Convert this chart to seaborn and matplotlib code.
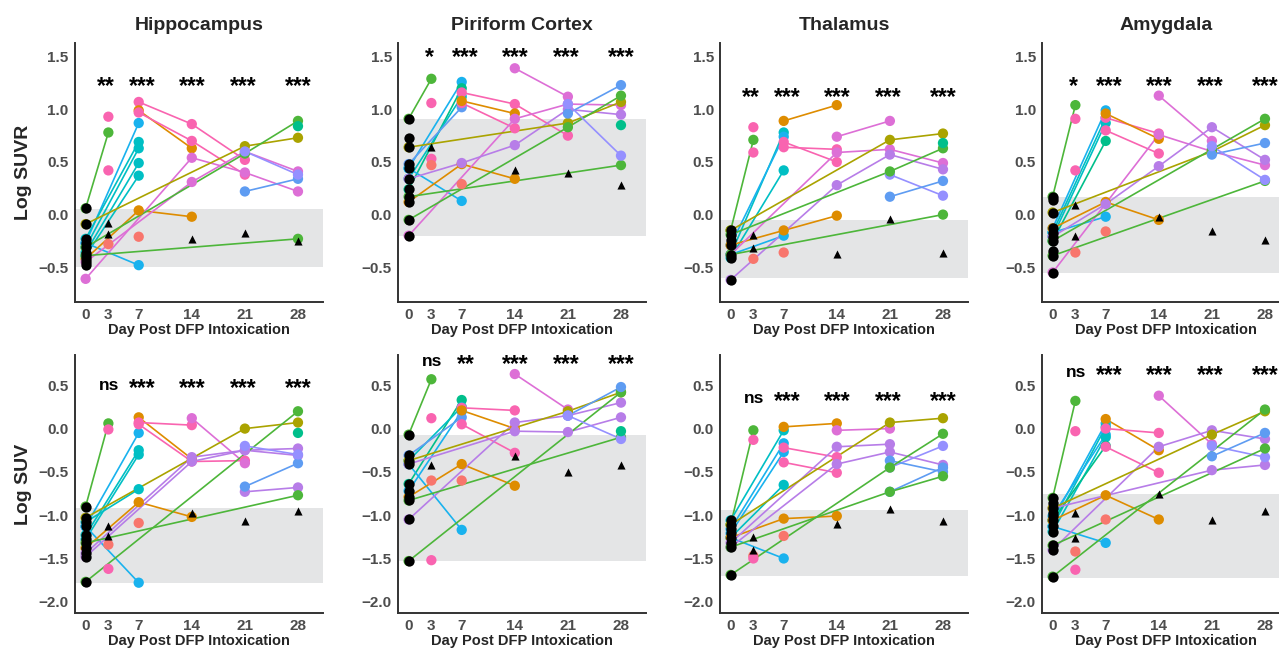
import pandas as pd
import matplotlib.pyplot as plt
import seaborn as sns

sns.set_style("white")
plt.rcParams['font.family'] = ['Liberation Sans', 'DejaVu Sans']

# ggplot-like hue colours, one per animal group
colors = {
    'salmon': '#F8766D', 'orange': '#DE8C00', 'olive': '#AAA300', 'green': '#4DB63A',
    'teal': '#00BF8B', 'cyan': '#00BFC4', 'sky': '#19B2EE', 'blue': '#5E9CF2',
    'lavender': '#9590FF', 'purple': '#B77DE8', 'magenta': '#DD6FD6', 'pink': '#F964B0',
}

tick_days = [0, 3, 7, 14, 21, 28]
star_days = [2.7, 7.5, 14, 20.8, 28]

# ---------------- Log SUVR ----------------
hip_suvr_base = [0.06, -0.09, -0.23, -0.27, -0.31, -0.36, -0.39, -0.42, -0.45, -0.48]
hip_suvr_tracks = [
    ('green', [0, 3], [0.06, 0.78]), ('pink', [3], [0.93]), ('pink', [3], [0.42]), ('salmon', [3], [-0.28]),
    ('sky', [0, 7], [-0.27, 0.87]), ('cyan', [0, 7], [-0.23, 0.69]), ('cyan', [0, 7], [-0.31, 0.63]),
    ('cyan', [0, 7], [-0.36, 0.49]), ('cyan', [0, 7], [-0.39, 0.37]), ('sky', [0, 7], [-0.27, -0.48]),
    ('orange', [0, 7, 14], [-0.42, 0.04, -0.02]), ('salmon', [7], [-0.21]),
    ('pink', [7, 14, 21], [1.07, 0.86, 0.52]), ('orange', [7, 14], [0.99, 0.63]),
    ('pink', [7, 14, 21], [0.97, 0.70, 0.38]),
    ('magenta', [0, 14, 21, 28], [-0.61, 0.54, 0.40, 0.22]),
    ('magenta', [0, 14, 21, 28], [-0.45, 0.31, 0.60, 0.41]),
    ('olive', [0, 21, 28], [-0.09, 0.65, 0.73]), ('green', [0, 21, 28], [-0.31, 0.58, 0.89]),
    ('green', [0, 28], [-0.39, -0.23]), ('blue', [21, 28], [0.22, 0.34]),
    ('lavender', [21, 28], [0.60, 0.38]), ('teal', [28], [0.84]),
]
hip_suvr_tri_days = [3, 3, 14, 21, 28]
hip_suvr_tri_vals = [-0.08, -0.18, -0.23, -0.17, -0.25]
hip_suvr_band = (-0.50, 0.05)
hip_suvr_stars = ['**', '***', '***', '***', '***']

pir_suvr_base = [0.91, 0.73, 0.64, 0.48, 0.44, 0.34, 0.24, 0.17, 0.12, -0.05, -0.20]
pir_suvr_tracks = [
    ('green', [0, 3], [0.91, 1.29]), ('pink', [3], [1.06]), ('pink', [3], [0.53]), ('salmon', [3], [0.47]),
    ('sky', [0, 7], [0.44, 1.26]), ('teal', [0, 7], [0.24, 1.20]), ('cyan', [0, 7], [0.34, 1.12]),
    ('blue', [0, 7], [0.48, 1.02]), ('sky', [0, 7], [0.44, 0.13]),
    ('pink', [7, 14, 21], [1.16, 1.05, 0.75]), ('pink', [7, 14], [1.06, 0.82]),
    ('orange', [7, 14], [1.08, 0.96]), ('orange', [0, 7, 14], [0.12, 0.48, 0.34]), ('salmon', [7], [0.29]),
    ('magenta', [14, 21], [1.39, 1.12]),
    ('magenta', [0, 14, 21, 28], [-0.20, 0.91, 1.05, 1.04]),
    ('purple', [0, 7, 14, 21, 28], [0.34, 0.49, 0.66, 1.00, 0.95]),
    ('olive', [0, 21, 28], [0.64, 0.87, 1.07]), ('green', [0, 21, 28], [-0.05, 0.83, 1.13]),
    ('green', [0, 28], [0.17, 0.47]), ('blue', [21, 28], [0.96, 1.23]),
    ('lavender', [21, 28], [1.05, 0.56]), ('teal', [28], [0.85]),
]
pir_suvr_tri_days = [3, 14, 21, 28]
pir_suvr_tri_vals = [0.64, 0.42, 0.40, 0.28]
pir_suvr_band = (-0.20, 0.91)
pir_suvr_stars = ['*', '***', '***', '***', '***']

thal_suvr_base = [-0.15, -0.19, -0.24, -0.29, -0.38, -0.41, -0.62]
thal_suvr_tracks = [
    ('green', [0, 3], [-0.15, 0.71]), ('pink', [3], [0.83]), ('pink', [3], [0.59]), ('salmon', [3], [-0.42]),
    ('cyan', [0, 7], [-0.38, 0.78]), ('sky', [0, 7], [-0.29, 0.74]), ('cyan', [0, 7], [-0.41, 0.42]),
    ('sky', [0, 7], [-0.38, -0.20]),
    ('orange', [0, 7, 14], [-0.29, -0.15, -0.01]), ('orange', [7, 14], [0.89, 1.04]), ('salmon', [7], [-0.36]),
    ('pink', [7, 14], [0.69, 0.50]), ('pink', [7, 14], [0.64, 0.62]),
    ('magenta', [14, 21], [0.74, 0.89]),
    ('magenta', [0, 14, 21, 28], [-0.38, 0.59, 0.62, 0.49]),
    ('purple', [0, 14, 21, 28], [-0.62, 0.28, 0.57, 0.43]),
    ('lavender', [21, 28], [0.38, 0.18]), ('blue', [21, 28], [0.17, 0.32]),
    ('olive', [0, 21, 28], [-0.15, 0.71, 0.77]), ('green', [0, 21, 28], [-0.19, 0.41, 0.63]),
    ('green', [0, 28], [-0.38, 0.0]), ('teal', [28], [0.68]),
]
thal_suvr_tri_days = [3, 3, 14, 21, 28]
thal_suvr_tri_vals = [-0.19, -0.32, -0.37, -0.04, -0.36]
thal_suvr_band = (-0.60, -0.05)
thal_suvr_stars = ['**', '***', '***', '***', '***']

amy_suvr_base = [0.17, 0.14, 0.02, -0.13, -0.17, -0.21, -0.25, -0.35, -0.39, -0.55]
amy_suvr_tracks = [
    ('green', [0, 3], [0.17, 1.04]), ('pink', [3], [0.91]), ('pink', [3], [0.42]), ('salmon', [3], [-0.36]),
    ('sky', [0, 7], [-0.13, 0.99]), ('cyan', [0, 7], [-0.17, 0.92]), ('cyan', [0, 7], [-0.21, 0.87]),
    ('teal', [0, 7], [-0.25, 0.70]), ('sky', [0, 7], [-0.17, -0.02]),
    ('pink', [7, 14], [0.92, 0.77]), ('pink', [7, 14], [0.80, 0.58]), ('orange', [7, 14], [0.96, 0.72]),
    ('orange', [0, 7, 14], [-0.13, 0.12, -0.05]), ('salmon', [7], [-0.16]),
    ('magenta', [14, 21], [1.13, 0.70]),
    ('magenta', [0, 14, 21, 28], [-0.55, 0.76, 0.60, 0.47]),
    ('purple', [0, 7, 14, 21, 28], [-0.21, 0.10, 0.46, 0.83, 0.52]),
    ('olive', [0, 21, 28], [0.02, 0.60, 0.85]), ('green', [0, 21, 28], [-0.25, 0.62, 0.91]),
    ('green', [0, 28], [-0.39, 0.32]), ('blue', [21, 28], [0.57, 0.68]), ('lavender', [21, 28], [0.65, 0.33]),
]
amy_suvr_tri_days = [3, 3, 14, 21, 28]
amy_suvr_tri_vals = [0.09, -0.20, -0.02, -0.16, -0.24]
amy_suvr_band = (-0.55, 0.17)
amy_suvr_stars = ['*', '***', '***', '***', '***']

# ---------------- Log SUV ----------------
hip_suv_base = [-0.90, -1.03, -1.08, -1.13, -1.23, -1.28, -1.32, -1.38, -1.44, -1.48, -1.77]
hip_suv_tracks = [
    ('green', [0, 3], [-0.90, 0.06]), ('pink', [3], [-0.01]), ('salmon', [3], [-1.34]), ('pink', [3], [-1.62]),
    ('sky', [0, 7], [-1.13, -0.05]), ('cyan', [0, 7], [-1.23, -0.25]), ('cyan', [0, 7], [-1.28, -0.30]),
    ('cyan', [0, 7], [-1.08, -0.70]), ('sky', [0, 7], [-1.13, -1.78]),
    ('orange', [0, 7, 14], [-1.38, -0.85, -1.02]), ('orange', [7, 14], [0.13, -0.35]), ('salmon', [7], [-1.09]),
    ('pink', [7, 14], [0.07, 0.04]), ('pink', [7, 14, 21], [0.05, -0.38, -0.37]),
    ('magenta', [14, 21], [0.12, -0.40]),
    ('purple', [0, 14, 21, 28], [-1.44, -0.33, -0.25, -0.23]),
    ('purple', [0, 14, 21, 28], [-1.48, -0.38, -0.25, -0.31]),
    ('purple', [21, 28], [-0.73, -0.68]),
    ('olive', [0, 21, 28], [-1.03, 0.0, 0.07]), ('green', [0, 28], [-1.77, 0.20]),
    ('green', [0, 28], [-1.32, -0.77]), ('blue', [21, 28], [-0.67, -0.40]),
    ('lavender', [21, 28], [-0.20, -0.30]), ('teal', [28], [-0.05]),
]
hip_suv_tri_days = [3, 3, 14, 21, 28]
hip_suv_tri_vals = [-1.13, -1.24, -0.97, -1.07, -0.95]
hip_suv_band = (-1.78, -0.92)
hip_suv_stars = ['ns', '***', '***', '***', '***']

pir_suv_base = [-0.07, -0.31, -0.37, -0.41, -0.64, -0.72, -0.79, -0.83, -1.05, -1.53]
pir_suv_tracks = [
    ('green', [0, 3], [-0.07, 0.57]), ('pink', [3], [0.12]), ('salmon', [3], [-0.60]), ('pink', [3], [-1.52]),
    ('teal', [0, 7], [-0.64, 0.33]), ('cyan', [0, 7], [-0.37, 0.25]), ('sky', [0, 7], [-0.72, 0.20]),
    ('blue', [0, 7], [-0.31, 0.13]), ('sky', [0, 7], [-0.41, -1.17]),
    ('pink', [7, 14], [0.24, 0.21]), ('pink', [7, 14], [0.05, -0.28]), ('orange', [7, 14], [0.21, 0.0]),
    ('orange', [0, 7, 14], [-0.79, -0.41, -0.66]), ('salmon', [7], [-0.60]),
    ('magenta', [14, 21], [0.63, 0.22]),
    ('purple', [0, 14, 21, 28], [-1.05, 0.07, 0.15, 0.30]),
    ('purple', [0, 14, 21, 28], [-0.41, -0.03, -0.04, 0.13]),
    ('olive', [0, 21, 28], [-0.37, 0.20, 0.42]), ('green', [0, 28], [-1.53, 0.42]),
    ('green', [0, 28], [-0.83, -0.10]), ('blue', [21, 28], [0.15, 0.48]),
    ('lavender', [21, 28], [0.15, -0.12]), ('teal', [28], [-0.03]),
]
pir_suv_tri_days = [3, 14, 21, 28]
pir_suv_tri_vals = [-0.42, -0.32, -0.50, -0.42]
pir_suv_band = (-1.53, -0.07)
pir_suv_stars = ['ns', '**', '***', '***', '***']

thal_suv_base = [-1.06, -1.11, -1.16, -1.21, -1.26, -1.32, -1.37, -1.69]
thal_suv_tracks = [
    ('green', [0, 3], [-1.11, -0.02]), ('pink', [3], [-0.13]), ('salmon', [3], [-1.47]), ('pink', [3], [-1.50]),
    ('cyan', [0, 7], [-1.06, -0.02]), ('sky', [0, 7], [-1.16, -0.17]), ('sky', [0, 7], [-1.21, -0.27]),
    ('cyan', [0, 7], [-1.26, -0.65]), ('sky', [0, 7], [-1.26, -1.50]),
    ('orange', [0, 7, 14], [-1.26, -1.04, -1.01]), ('orange', [7, 14], [0.02, 0.06]), ('salmon', [7], [-1.24]),
    ('pink', [7, 14], [-0.22, -0.33]), ('pink', [7, 14], [-0.39, -0.51]), ('magenta', [14, 21], [-0.02, 0.0]),
    ('purple', [0, 14, 21], [-1.32, -0.21, -0.18]),
    ('purple', [0, 14, 21, 28], [-1.37, -0.41, -0.27, -0.42]),
    ('lavender', [21, 28], [-0.45, -0.20]), ('blue', [21, 28], [-0.37, -0.50]), ('blue', [21, 28], [-0.73, -0.45]),
    ('olive', [0, 21, 28], [-1.11, 0.07, 0.12]), ('green', [0, 21, 28], [-1.69, -0.45, -0.06]),
    ('green', [0, 21, 28], [-1.37, -0.73, -0.55]),
]
thal_suv_tri_days = [3, 3, 14, 21, 28]
thal_suv_tri_vals = [-1.25, -1.40, -1.10, -0.93, -1.07]
thal_suv_band = (-1.70, -0.94)
thal_suv_stars = ['ns', '***', '***', '***', '***']

amy_suv_base = [-0.80, -0.86, -0.92, -0.97, -1.01, -1.06, -1.13, -1.19, -1.35, -1.40, -1.71]
amy_suv_tracks = [
    ('green', [0, 3], [-0.80, 0.32]), ('pink', [3], [-0.03]), ('salmon', [3], [-1.42]), ('pink', [3], [-1.63]),
    ('sky', [0, 7], [-1.06, 0.06]), ('cyan', [0, 7], [-1.13, 0.02]), ('sky', [0, 7], [-1.01, -0.07]),
    ('cyan', [0, 7], [-1.19, -0.10]), ('teal', [0, 7], [-1.06, -0.20]), ('sky', [0, 7], [-1.13, -1.32]),
    ('orange', [7, 14], [0.11, -0.25]), ('orange', [0, 7, 14], [-1.06, -0.77, -1.05]), ('salmon', [7], [-1.05]),
    ('pink', [7, 14], [0.00, -0.05]), ('pink', [7, 14], [-0.21, -0.51]), ('magenta', [14, 21], [0.38, -0.18]),
    ('purple', [0, 14, 21, 28], [-1.40, -0.21, -0.02, -0.12]),
    ('purple', [0, 21, 28], [-0.92, -0.48, -0.42]),
    ('lavender', [21, 28], [-0.20, -0.33]), ('blue', [21, 28], [-0.32, -0.05]),
    ('olive', [0, 21, 28], [-0.92, -0.07, 0.20]), ('green', [0, 28], [-1.71, 0.22]),
    ('green', [0, 28], [-1.35, -0.23]),
]
amy_suv_tri_days = [3, 3, 14, 21, 28]
amy_suv_tri_vals = [-0.98, -1.26, -0.75, -1.06, -0.95]
amy_suv_band = (-1.72, -0.75)
amy_suv_stars = ['ns', '***', '***', '***', '***']

titles = ['Hippocampus', 'Piriform Cortex', 'Thalamus', 'Amygdala']
top_star_y = [1.25, 1.52, 1.14, 1.25]
bottom_star_y = [0.50, 0.78, 0.35, 0.65]

top_panels = [
    (hip_suvr_base, hip_suvr_tracks, hip_suvr_tri_days, hip_suvr_tri_vals, hip_suvr_band, hip_suvr_stars),
    (pir_suvr_base, pir_suvr_tracks, pir_suvr_tri_days, pir_suvr_tri_vals, pir_suvr_band, pir_suvr_stars),
    (thal_suvr_base, thal_suvr_tracks, thal_suvr_tri_days, thal_suvr_tri_vals, thal_suvr_band, thal_suvr_stars),
    (amy_suvr_base, amy_suvr_tracks, amy_suvr_tri_days, amy_suvr_tri_vals, amy_suvr_band, amy_suvr_stars),
]
bottom_panels = [
    (hip_suv_base, hip_suv_tracks, hip_suv_tri_days, hip_suv_tri_vals, hip_suv_band, hip_suv_stars),
    (pir_suv_base, pir_suv_tracks, pir_suv_tri_days, pir_suv_tri_vals, pir_suv_band, pir_suv_stars),
    (thal_suv_base, thal_suv_tracks, thal_suv_tri_days, thal_suv_tri_vals, thal_suv_band, thal_suv_stars),
    (amy_suv_base, amy_suv_tracks, amy_suv_tri_days, amy_suv_tri_vals, amy_suv_band, amy_suv_stars),
]


def draw_panel(ax, base, tracks, tri_days, tri_vals, band, stars, star_y):
    ax.axhspan(band[0], band[1], color='#E4E5E6', lw=0, zorder=0)
    rows = []
    for i, (c, days, vals) in enumerate(tracks):
        for d, v in zip(days, vals):
            rows.append({'animal': i, 'day': d, 'value': v})
    df = pd.DataFrame(rows)
    pal = {i: colors[t[0]] for i, t in enumerate(tracks)}
    sns.lineplot(data=df, x='day', y='value', hue='animal', units='animal', estimator=None,
                 palette=pal, legend=False, lw=1.2, ax=ax, zorder=2)
    sns.scatterplot(data=df, x='day', y='value', hue='animal', palette=pal, legend=False,
                    s=55, linewidth=0, ax=ax, zorder=3)
    sns.scatterplot(x=[0] * len(base), y=base, color='black', s=55, linewidth=0, ax=ax, zorder=4)
    sns.scatterplot(x=tri_days, y=tri_vals, color='black', marker='^', s=34, linewidth=0, ax=ax, zorder=4)
    for d, s in zip(star_days, stars):
        # asterisks sit high in the em box, so drop them to centre on star_y
        if s == 'ns':
            d, fs, off = 3.1, 12.5, 0.27
        else:
            fs, off = 16.5, 0.42
        ax.annotate(s, (d, star_y), xytext=(0, -off * fs), textcoords='offset points',
                    ha='center', va='baseline', fontsize=fs, fontweight='bold', color='black')


fig = plt.figure(figsize=(12.79, 6.48), dpi=100)
W, H = 1279, 648
col_left = [75, 398, 720, 1042]
ax_w = 248
rows_px = [(43, 302), (355, 613)]

for r, (panels, ylim, yticks, ylab, star_ys) in enumerate([
        (top_panels, (-0.83, 1.63), [-0.5, 0.0, 0.5, 1.0, 1.5], 'Log SUVR', top_star_y),
        (bottom_panels, (-2.13, 0.85), [-2.0, -1.5, -1.0, -0.5, 0.0, 0.5], 'Log SUV', bottom_star_y)]):
    top, bot = rows_px[r]
    for c, p in enumerate(panels):
        ax = fig.add_axes([col_left[c] / W, 1 - bot / H, ax_w / W, (bot - top) / H])
        draw_panel(ax, *p, star_ys[c])
        ax.set_xlim(-1.4, 31.3)
        ax.set_ylim(*ylim)
        ax.set_xticks(tick_days)
        ax.set_yticks(yticks)
        ax.set_yticklabels([f'{v:.1f}'.replace('-', '\u2212') for v in yticks])
        ax.tick_params(colors='#4D4D4D', labelsize=11, length=3, width=1, pad=1.5)
        for lbl in ax.get_xticklabels() + ax.get_yticklabels():
            lbl.set_fontweight('bold')
        for side in ['top', 'right']:
            ax.spines[side].set_visible(False)
        for side in ['left', 'bottom']:
            ax.spines[side].set_color('#333333')
            ax.spines[side].set_linewidth(1.4)
        ax.set_xlabel('Day Post DFP Intoxication', fontsize=10.5, fontweight='bold', labelpad=0.5)
        if c == 0:
            ax.set_ylabel(ylab, fontsize=14, fontweight='bold', labelpad=5)
        else:
            ax.set_ylabel('')
        if r == 0:
            ax.set_title(titles[c], fontsize=14, fontweight='bold', pad=9)

fig.savefig('out.png', dpi=100)
